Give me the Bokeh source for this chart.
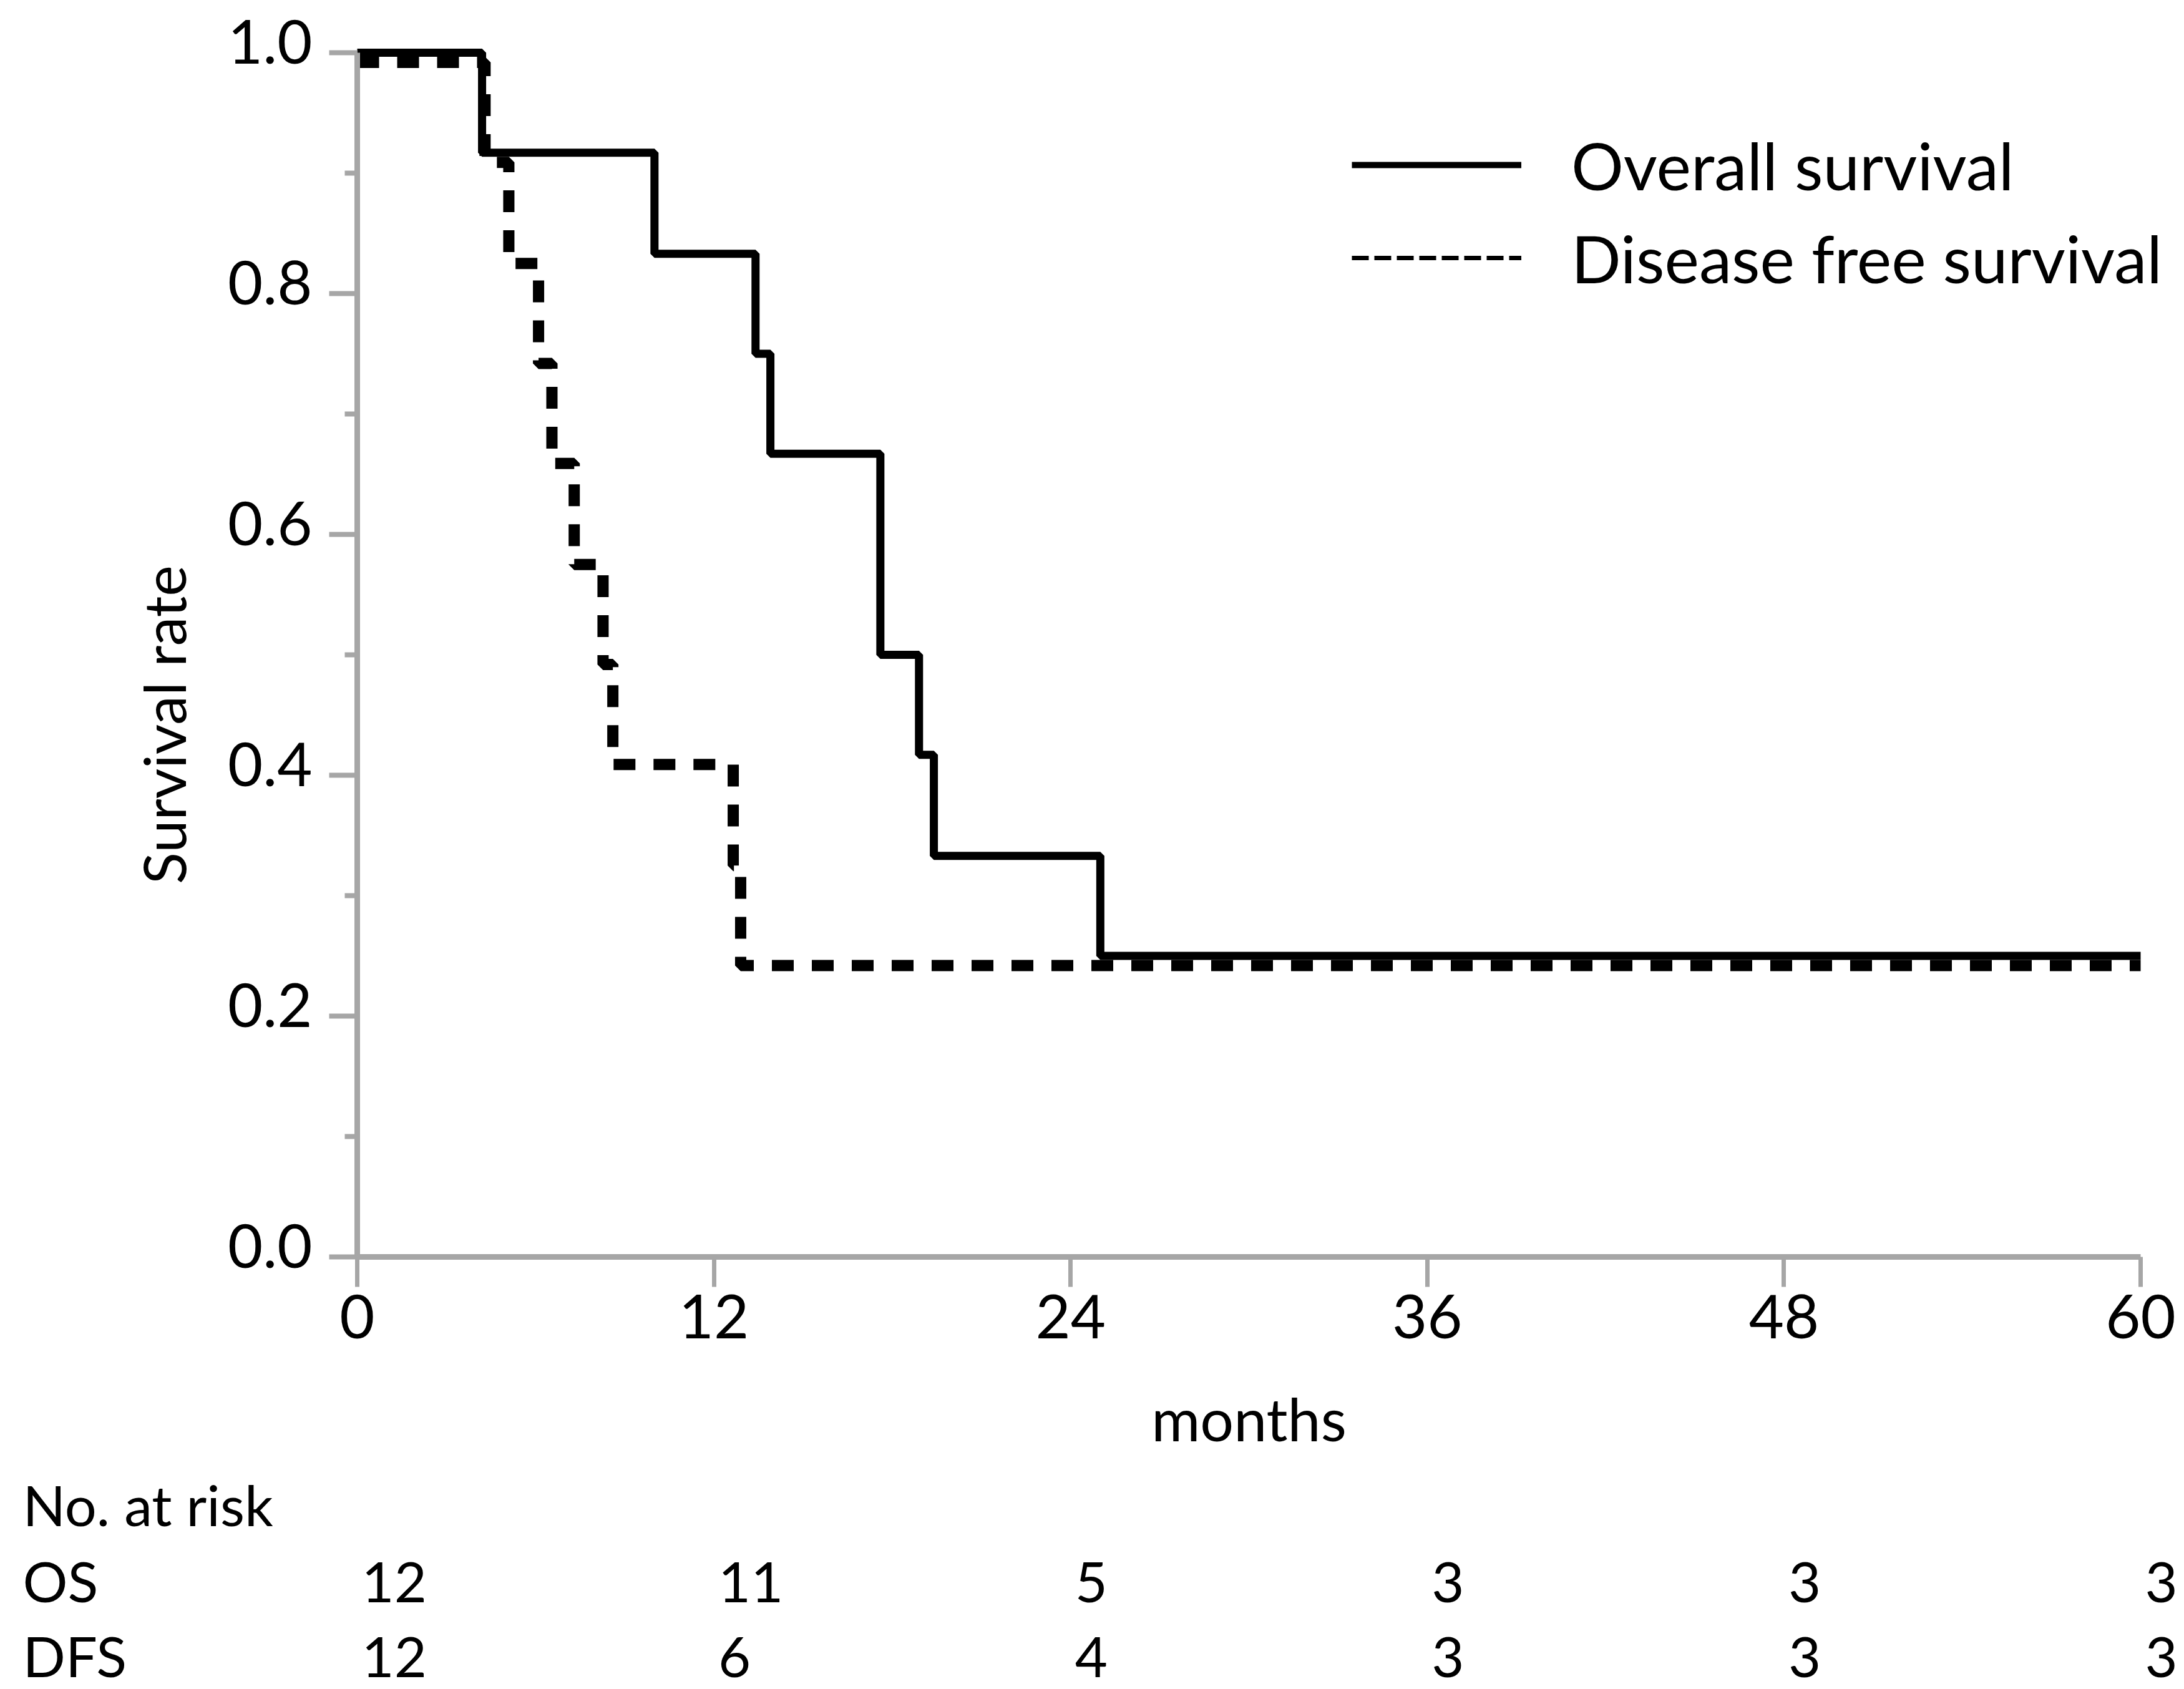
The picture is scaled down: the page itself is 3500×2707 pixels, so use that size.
import math
from bokeh.plotting import figure
from bokeh.models import (FixedTicker, Range1d, Legend, LegendItem, LabelSet,
                          ColumnDataSource, NumeralTickFormatter, LinearAxis,
                          CustomJSTickFormatter)
from bokeh.core.properties import value
from bokeh.embed import file_html
from bokeh.resources import INLINE

# ---------------- data ----------------
os_months = [0, 4.2, 10.0, 13.4, 13.9, 17.6, 18.9, 19.4, 25.0, 60]
os_surv = [1.0, 0.917, 0.833, 0.75, 0.667, 0.5, 0.417, 0.333, 0.25, 0.25]

dfs_months = [0, 4.3, 5.1, 6.1, 6.55, 7.3, 8.27, 8.6, 12.65, 12.9, 60]
dfs_surv = [0.992, 0.909, 0.825, 0.742, 0.659, 0.575, 0.492, 0.409, 0.325, 0.242, 0.242]

risk_months = [0, 12, 24, 36, 48, 60]
os_at_risk = [12, 11, 5, 3, 3, 3]
dfs_at_risk = [12, 6, 4, 3, 3, 3]

x_ticks = [0, 12, 24, 36, 48, 60]
y_ticks = [0.0, 0.2, 0.4, 0.6, 0.8, 1.0]
y_minor_ticks = [0.1, 0.3, 0.5, 0.7, 0.9]

legend_labels = ["Overall survival", "Disease free survival"]
row_labels = ["No. at risk", "OS", "DFS"]

# ---------------- layout / style ----------------
FONT = "Lato"
AXIS_GRAY = "#a6a6a6"
W, H = 3496, 2705
X0_PX, PX_PER_MONTH = 572, 2858 / 60.0      # canvas x of 0 months, px per month
Y0_PX, PX_PER_UNIT = 2014, 1930.0           # canvas y (from top) of rate 0, px per unit


def data_x(px):
    return (px - X0_PX) / PX_PER_MONTH


def data_y(py):
    return (Y0_PX - py) / PX_PER_UNIT


p = figure(width=W, height=H, x_range=Range1d(data_x(0), data_x(W)),
           y_range=Range1d(data_y(H), data_y(0)),
           output_backend="svg", toolbar_location=None, min_border=0)
p.outline_line_color = None
p.grid.visible = False
p.background_fill_color = "white"
p.border_fill_color = "white"

# x axis
xa = p.xaxis[0]
xa.fixed_location = 0
xa.bounds = (0, 60)
xa.ticker = FixedTicker(ticks=x_ticks)
xa.axis_line_color = AXIS_GRAY
xa.axis_line_width = 9
xa.major_tick_line_color = AXIS_GRAY
xa.major_tick_line_width = 7
xa.major_tick_out = 48
xa.major_tick_in = 0
xa.minor_tick_out = 0
xa.minor_tick_in = 0
xa.major_label_text_font = FONT
xa.major_label_text_font_size = "97px"
xa.major_label_text_color = "black"
xa.major_label_standoff = 12
xa.axis_label = "months"
xa.axis_label_text_font = FONT
xa.axis_label_text_font_size = "95px"
xa.axis_label_text_font_style = "normal"
xa.axis_label_text_color = "black"
xa.axis_label_standoff = 68

# y axis (line + ticks; its labels come from the axis below)
ya = p.yaxis[0]
ya.fixed_location = 0
ya.bounds = (0, 1)
ya.ticker = FixedTicker(ticks=y_ticks, minor_ticks=y_minor_ticks)
ya.formatter = CustomJSTickFormatter(code="return ''")
ya.axis_line_color = AXIS_GRAY
ya.axis_line_width = 9
ya.major_tick_line_color = AXIS_GRAY
ya.major_tick_line_width = 8
ya.minor_tick_line_color = AXIS_GRAY
ya.minor_tick_line_width = 8
ya.major_tick_out = 45
ya.major_tick_in = 0
ya.minor_tick_out = 20
ya.minor_tick_in = 0
ya.major_label_text_alpha = 0

# y tick labels sit a little above their ticks in the reference
LABEL_LIFT = 18 / PX_PER_UNIT
p.extra_y_ranges = {"lab": Range1d(data_y(H) - LABEL_LIFT, data_y(0) - LABEL_LIFT)}
ylab = LinearAxis(y_range_name="lab", fixed_location=0, bounds=(0, 1),
                  ticker=FixedTicker(ticks=y_ticks, minor_ticks=[]),
                  formatter=NumeralTickFormatter(format="0.0"),
                  axis_line_alpha=0, major_tick_line_alpha=0, minor_tick_line_alpha=0,
                  major_tick_out=45, major_tick_in=0, minor_tick_out=0, minor_tick_in=0,
                  major_label_standoff=27, major_label_text_font=FONT,
                  major_label_text_font_size="97px", major_label_text_color="black")
p.add_layout(ylab, "left")

# curves
p.step(x=os_months, y=os_surv, mode="after", line_color="black", line_width=13)
p.step(x=dfs_months, y=dfs_surv, mode="after", line_color="black", line_width=18,
       line_dash="35 29")

# legend (separate sample renderers, styled as in the reference)
nan = float("nan")
leg_os = p.line(x=[nan], y=[nan], line_color="black", line_width=10)
leg_dfs = p.line(x=[nan], y=[nan], line_color="black", line_width=7, line_dash="27 9")
legend = Legend(items=[LegendItem(label=legend_labels[0], renderers=[leg_os]),
                       LegendItem(label=legend_labels[1], renderers=[leg_dfs])],
                location=(2166, H - 478), glyph_width=272, glyph_height=130,
                label_height=130, label_standoff=80, spacing=19, padding=0, margin=0,
                border_line_color=None, background_fill_alpha=0,
                label_text_font=FONT, label_text_font_size="105px",
                label_text_color="black")
p.add_layout(legend)

# y axis title (rotated)
title_src = ColumnDataSource(dict(x=[data_x(297)], y=[data_y(1161)], text=["Survival rate"]))
p.add_layout(LabelSet(x="x", y="y", text="text", source=title_src, angle=math.pi / 2,
                      text_align="center", text_baseline="alphabetic",
                      text_font=value(FONT), text_font_size=value("94px"),
                      text_color="black"))

# risk table
ROW_Y = [data_y(2445), data_y(2567), data_y(2687)]
row_src = ColumnDataSource(dict(x=[data_x(36)] * len(row_labels), y=ROW_Y, text=row_labels))
p.add_layout(LabelSet(x="x", y="y", text="text", source=row_src,
                      text_align="left", text_baseline="alphabetic",
                      text_font=value(FONT), text_font_size=value("90px"),
                      text_color="black"))

for counts, yy in ((os_at_risk, ROW_Y[1]), (dfs_at_risk, ROW_Y[2])):
    src = ColumnDataSource(dict(x=risk_months, y=[yy] * len(risk_months),
                                text=[str(c) for c in counts]))
    p.add_layout(LabelSet(x="x", y="y", text="text", source=src, x_offset=7,
                          text_align="left", text_baseline="alphabetic",
                          text_font=value(FONT), text_font_size=value("90px"),
                          text_color="black"))

open("out.html", "w").write(file_html(p, INLINE))
